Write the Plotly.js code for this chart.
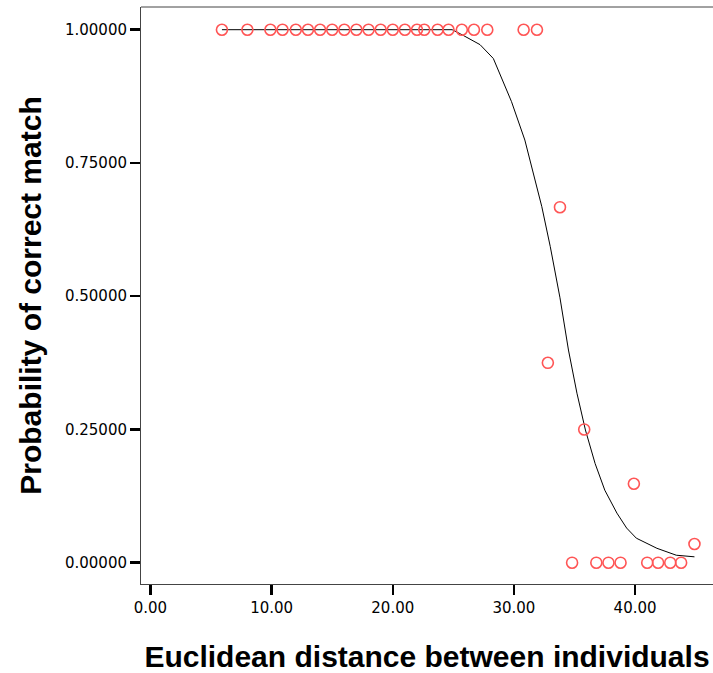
<!DOCTYPE html>
<html>
<head>
<meta charset="utf-8">
<script src="https://cdn.plot.ly/plotly-3.0.1.min.js"></script>
<style>html,body{margin:0;padding:0;background:#fff;}#chart{width:713px;height:673px;}</style>
</head>
<body>
<div id="chart"></div>
<script>
// Observed points: Euclidean distance vs probability of correct match
var obsDistance = [5.9, 8.0, 9.9, 10.9, 12.0, 13.0, 14.0, 15.0, 16.0, 17.0, 18.0, 19.0, 20.0, 21.0, 22.0, 22.6, 23.7, 24.6, 25.7, 26.7, 27.8, 30.8, 31.9,
                   32.8, 33.8, 34.8, 35.8, 36.8, 37.8, 38.8, 39.9, 41.0, 41.9, 42.9, 43.8, 44.9];
var obsProbability = [1, 1, 1, 1, 1, 1, 1, 1, 1, 1, 1, 1, 1, 1, 1, 1, 1, 1, 1, 1, 1, 1, 1,
                      0.375, 0.667, 0, 0.25, 0, 0, 0, 0.148, 0, 0, 0, 0, 0.035];

// Fitted curve
var fitDistance = [5.9, 24.9, 25.6, 27.2, 28.3, 29.8, 30.9, 31.6, 32.3, 33.0, 33.8, 34.5, 35.2, 35.9, 36.7, 37.5, 38.5, 39.3, 40.1, 41.8, 43.4, 44.9];
var fitProbability = [1.0, 1.0, 0.992, 0.972, 0.946, 0.865, 0.793, 0.731, 0.668, 0.593, 0.497, 0.399, 0.318, 0.249, 0.186, 0.136, 0.093, 0.065, 0.046, 0.027, 0.014, 0.011];

var xTicks = [0, 10, 20, 30, 40];
var yTicks = [0, 0.25, 0.5, 0.75, 1];

var traces = [
  {
    x: fitDistance, y: fitProbability, type: 'scatter', mode: 'lines',
    line: {color: '#000000', width: 1}, hoverinfo: 'skip', showlegend: false
  },
  {
    x: obsDistance, y: obsProbability, type: 'scatter', mode: 'markers',
    marker: {symbol: 'circle-open', size: 11, color: 'rgb(255,85,85)', line: {width: 1.6, color: 'rgb(255,85,85)'}},
    showlegend: false
  }
];

var tickFont = {family: 'DejaVu Sans, sans-serif', size: 15, color: '#000'};
var titleFont = {family: 'Liberation Sans, Arial, sans-serif', size: 30, color: '#000', weight: 'bold'};

var layout = {
  width: 713, height: 673,
  margin: {l: 141, r: 0, t: 7, b: 89, pad: 0},
  paper_bgcolor: '#ffffff', plot_bgcolor: '#ffffff',
  showlegend: false,
  xaxis: {
    range: [-0.78, 46.43], tickvals: xTicks, ticktext: xTicks.map(function(v){return v.toFixed(2);}),
    ticks: 'outside', ticklen: 10, tickwidth: 2.5, tickcolor: '#000',
    showline: true, linecolor: '#444', linewidth: 1, showgrid: false, zeroline: false,
    tickfont: tickFont,
    title: {text: 'Euclidean distance between individuals', font: titleFont, standoff: 33}
  },
  yaxis: {
    range: [-0.040, 1.0426], tickvals: yTicks, ticktext: yTicks.map(function(v){return v.toFixed(5);}),
    ticks: 'outside', ticklen: 10, tickwidth: 2.5, tickcolor: '#000',
    showline: true, linecolor: '#444', linewidth: 1, showgrid: false, zeroline: false,
    tickfont: tickFont,
    title: {text: 'Probability of correct match', font: titleFont, standoff: 14}
  },
  shapes: [
    {type: 'line', xref: 'paper', yref: 'paper', x0: 0, x1: 1, y0: 1, y1: 1, line: {color: '#444', width: 1}}
  ]
};

Plotly.newPlot('chart', traces, layout, {displayModeBar: false, staticPlot: true});
</script>
</body>
</html>
